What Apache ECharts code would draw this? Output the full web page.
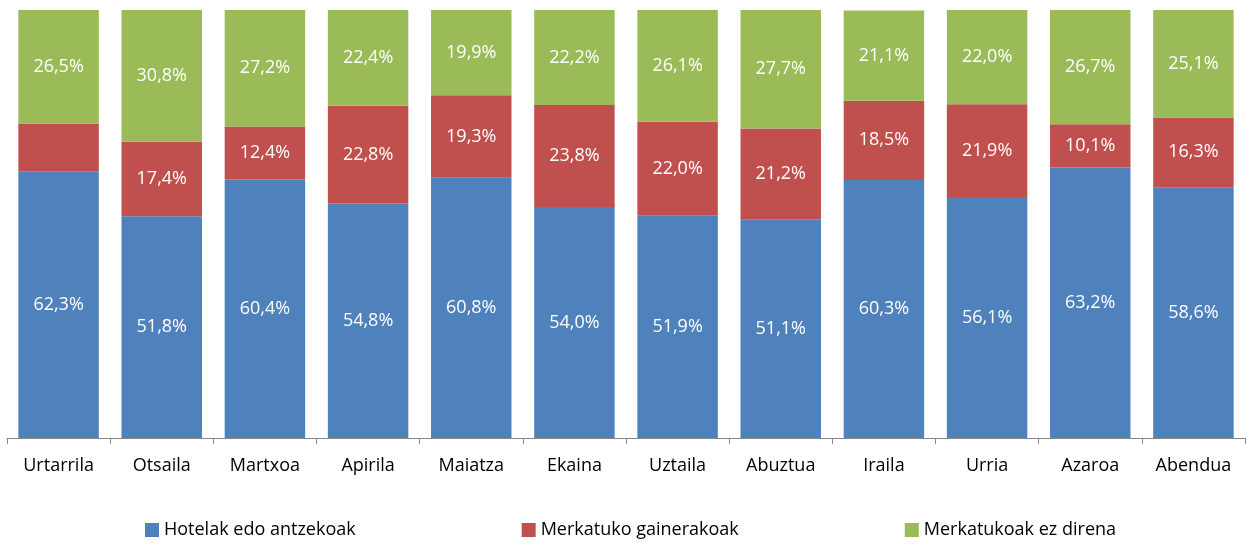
<!DOCTYPE html>
<html>
<head>
<meta charset="utf-8">
<script src="https://cdn.jsdelivr.net/npm/echarts@6/dist/echarts.min.js"></script>
<style>
    html, body { margin: 0; padding: 0; background: #fff; }
    #chart { width: 1252px; height: 545px; }
</style>
</head>
<body>
<div id="chart"></div>
<script>
var months = ['Urtarrila', 'Otsaila', 'Martxoa', 'Apirila', 'Maiatza', 'Ekaina',
    'Uztaila', 'Abuztua', 'Iraila', 'Urria', 'Azaroa', 'Abendua'];
var hotelak = [62.3, 51.8, 60.4, 54.8, 60.8, 54.0, 51.9, 51.1, 60.3, 56.1, 63.2, 58.6];
var gainerakoak = [11.2, 17.4, 12.4, 22.8, 19.3, 23.8, 22.0, 21.2, 18.5, 21.9, 10.1, 16.3];
var ezDirena = [26.5, 30.8, 27.2, 22.4, 19.9, 22.2, 26.1, 27.7, 21.1, 22.0, 26.7, 25.1];

var fontName = 'Open Sans, Liberation Sans, sans-serif';

var fmt = function (p) {
    return p.value.toFixed(1).replace('.', ',') + '%';
};

var makeSeries = function (name, data, color) {
    return {
        name: name,
        type: 'bar',
        stack: 'total',
        barCategoryGap: '22%',
        data: data,
        itemStyle: { color: color },
        label: {
            show: true,
            position: 'inside',
            color: '#fff',
            fontSize: 18,
            fontFamily: fontName,
            formatter: fmt
        }
    };
};

var chart = echarts.init(document.getElementById('chart'));

// first red segment has no label in the original
var redData = gainerakoak.map(function (v, i) {
    return i === 0 ? { value: v, label: { show: false } } : v;
});

chart.setOption({
    animation: false,
    grid: { left: 7, right: 7, top: 10, bottom: 107 },
    legend: {
        left: 140,
        bottom: 1,
        itemWidth: 14,
        itemHeight: 14,
        itemGap: 166,
        icon: 'rect',
        textStyle: { fontSize: 18, fontFamily: fontName, color: '#000' },
        data: ['Hotelak edo antzekoak', 'Merkatuko gainerakoak', 'Merkatukoak ez direna']
    },
    xAxis: {
        type: 'category',
        data: months,
        axisLine: { show: true, lineStyle: { color: '#868686' } },
        axisTick: { show: true, length: 6, lineStyle: { color: '#868686' } },
        axisLabel: { fontSize: 18, fontFamily: fontName, color: '#000', margin: 19 }
    },
    yAxis: {
        type: 'value',
        min: 0,
        max: 100,
        show: false
    },
    series: [
        makeSeries('Hotelak edo antzekoak', hotelak, '#4F81BD'),
        makeSeries('Merkatuko gainerakoak', redData, '#C0504D'),
        makeSeries('Merkatukoak ez direna', ezDirena, '#9BBB59')
    ]
});
</script>
</body>
</html>
